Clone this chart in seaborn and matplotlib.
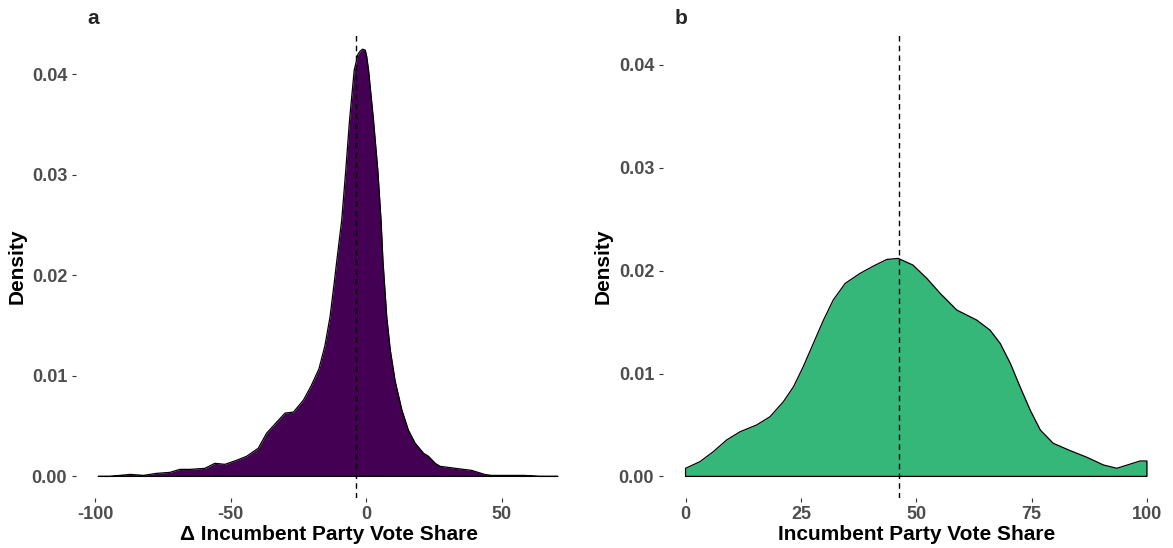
import numpy as np
import pandas as pd
import matplotlib
matplotlib.use("Agg")
import matplotlib.pyplot as plt
import seaborn as sns

# ---- data (density curves) ----
delta_x = [-98.8, -94.5, -87.1, -82.2, -77.4, -72.4, -68.7, -65.0, -59.5, -55.8,
           -52.1, -47.8, -44.1, -39.8, -36.7, -33.0, -29.9, -26.8, -23.1, -20.3,
           -17.4, -15.2, -13.3, -11.8, -10.8, -9.0, -7.5, -6.1, -4.4, -3.0,
           -2.2, -1.3, -0.3, 0.2, 0.9, 2.7, 4.3, 5.5, 6.2, 7.6,
           8.9, 10.7, 13.2, 15.6, 18.1, 21.2, 23.0, 25.5, 27.3, 30.3,
           33.0, 38.9, 43.7, 46.2, 58.4, 64.0, 70.7]
delta_y = [0.0000, 0.0000, 0.0002, 0.0001, 0.0003, 0.0004, 0.0007, 0.0007, 0.0008, 0.0013,
           0.0012, 0.0016, 0.0020, 0.0028, 0.0043, 0.0054, 0.0063, 0.0064, 0.0076, 0.0090,
           0.0107, 0.0130, 0.0159, 0.0192, 0.0215, 0.0255, 0.0305, 0.0355, 0.0404, 0.0420,
           0.0423, 0.0425, 0.0424, 0.0418, 0.0404, 0.0355, 0.0305, 0.0255, 0.0215, 0.0159,
           0.0126, 0.0095, 0.0066, 0.0046, 0.0033, 0.0023, 0.0020, 0.0013, 0.0010, 0.0009,
           0.0008, 0.0006, 0.0002, 0.0001, 0.0001, 0.0000, 0.0000]

share_x = [0.0, 3.1, 6.0, 8.9, 11.8, 15.4, 18.3, 21.2, 23.4, 25.5,
           27.7, 29.9, 32.0, 34.6, 37.8, 40.7, 43.6, 46.1, 49.3, 52.3,
           55.2, 58.8, 63.1, 66.0, 68.2, 70.4, 72.5, 74.7, 76.9, 79.7,
           83.4, 87.0, 90.6, 93.5, 96.4, 98.5, 100.0]
share_y = [0.00079, 0.00143, 0.0024, 0.00354, 0.00434, 0.0050, 0.0058, 0.00726, 0.00872, 0.01066,
           0.01293, 0.0152, 0.01714, 0.01876, 0.01973, 0.02044, 0.02109, 0.02119, 0.02054, 0.01925,
           0.01779, 0.01617, 0.0152, 0.01422, 0.01293, 0.01099, 0.00872, 0.00645, 0.00451, 0.00322,
           0.0025, 0.00186, 0.00111, 0.00079, 0.0012, 0.0015, 0.0015]

delta_median = -3.6
share_median = 46.3

panel_labels = ["a", "b"]
x_labels = ["\u0394 Incumbent Party Vote Share", "Incumbent Party Vote Share"]
x_ticks = [[-100, -50, 0, 50], [0, 25, 50, 75, 100]]
y_ticks = [0.00, 0.01, 0.02, 0.03, 0.04]
fill_colors = ["#440154", "#35B779"]

sns.set_theme(style="white")
plt.rcParams["font.family"] = ["Liberation Sans", "DejaVu Sans"]

fig = plt.figure(figsize=(11.73, 5.48), dpi=100)
axes = [fig.add_axes([0.0644, 0.0912, 0.4326, 0.8448]),
        fig.add_axes([0.5648, 0.0912, 0.4326, 0.8448])]

datasets = [(delta_x, delta_y, delta_median, (-107.2, 80.0), (-0.00215, 0.0439)),
            (share_x, share_y, share_median, (-5.0, 105.0), (-0.0021, 0.0429))]

for i, (ax, (xs, ys, med, xlim, ylim)) in enumerate(zip(axes, datasets)):
    df = pd.DataFrame({"x": xs, "y": ys})
    ax.fill_between(df["x"], 0, df["y"], color=fill_colors[i], lw=0)
    # closed outline (includes baseline and vertical edges)
    outline = pd.DataFrame({"x": [xs[0]] + list(xs) + [xs[-1], xs[0]],
                            "y": [0.0] + list(ys) + [0.0, 0.0]})
    sns.lineplot(data=outline, x="x", y="y", sort=False, color="black",
                 lw=0.9, ax=ax, estimator=None)
    ax.axvline(med, color="black", ls=(0, (4, 3)), lw=1.0)
    ax.set_xlim(*xlim)
    ax.set_ylim(*ylim)
    ax.set_xticks(x_ticks[i])
    ax.set_xticklabels([str(t) for t in x_ticks[i]])
    ax.set_yticks(y_ticks)
    ax.set_yticklabels([f"{t:.2f}" for t in y_ticks])
    for s in ax.spines.values():
        s.set_visible(False)
    ax.tick_params(axis="both", which="both", length=3, width=0.8, color="#333333",
                   labelsize=13, labelcolor="#4D4D4D", pad=3, left=True, bottom=True)
    for lab in ax.get_xticklabels() + ax.get_yticklabels():
        lab.set_fontweight("bold")
    ax.set_xlabel(x_labels[i], fontsize=15, fontweight="bold", color="black", labelpad=1)
    ax.set_ylabel("Density", fontsize=15, fontweight="bold", color="black", labelpad=4)
    ax.grid(False)

fig.text(93 / 1173, 1 - 19 / 548, panel_labels[0], fontsize=15, fontweight="bold",
         ha="center", va="center")
fig.text(681 / 1173, 1 - 19 / 548, panel_labels[1], fontsize=15, fontweight="bold",
         ha="center", va="center")

fig.savefig("out.png", dpi=100)
